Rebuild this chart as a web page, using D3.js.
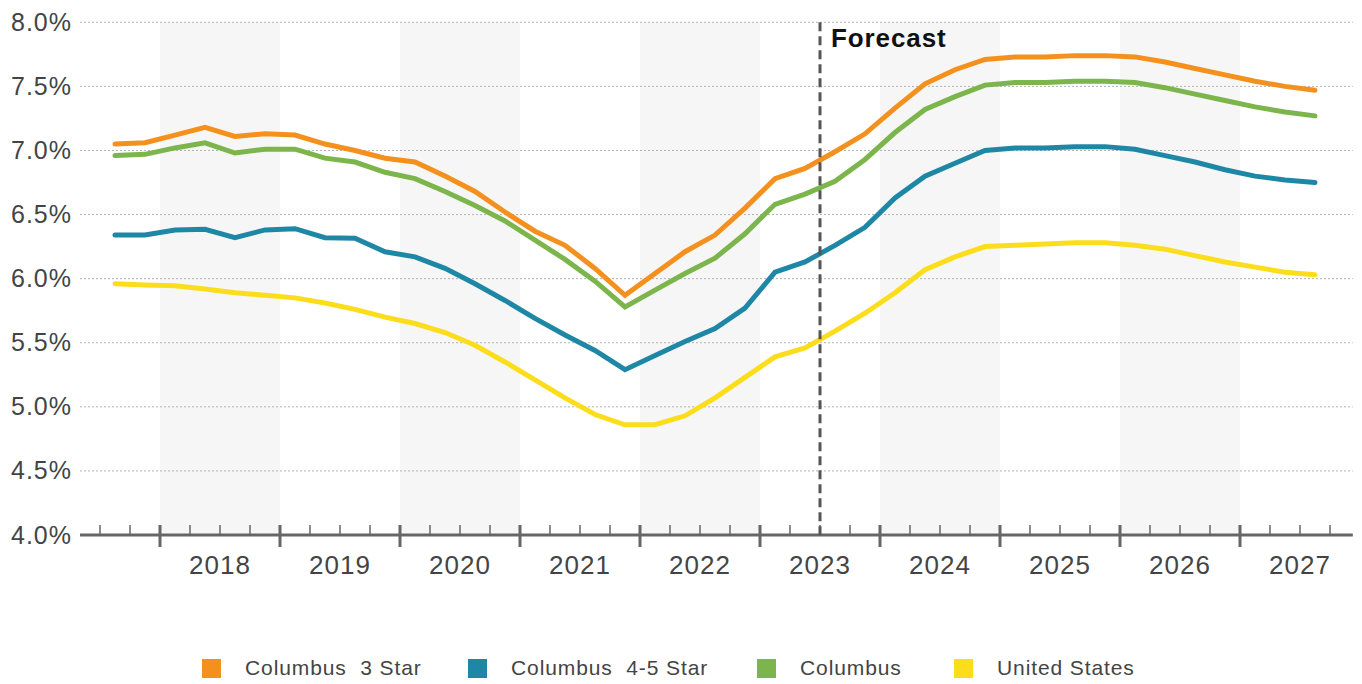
<!DOCTYPE html>
<html>
<head>
<meta charset="utf-8">
<script src="https://cdn.jsdelivr.net/npm/d3@7"></script>
<style>
  html, body { margin: 0; padding: 0; background: #fff; }
  svg { display: block; font-family: "Liberation Sans", Arial, sans-serif; }
</style>
</head>
<body>
<svg id="chart" width="1362" height="684"></svg>
<script>
// Quarterly periods (2017 Q3 through 2027 Q3)
const quarters = [
  "2017 Q3","2017 Q4",
  "2018 Q1","2018 Q2","2018 Q3","2018 Q4",
  "2019 Q1","2019 Q2","2019 Q3","2019 Q4",
  "2020 Q1","2020 Q2","2020 Q3","2020 Q4",
  "2021 Q1","2021 Q2","2021 Q3","2021 Q4",
  "2022 Q1","2022 Q2","2022 Q3","2022 Q4",
  "2023 Q1","2023 Q2","2023 Q3","2023 Q4",
  "2024 Q1","2024 Q2","2024 Q3","2024 Q4",
  "2025 Q1","2025 Q2","2025 Q3","2025 Q4",
  "2026 Q1","2026 Q2","2026 Q3","2026 Q4",
  "2027 Q1","2027 Q2","2027 Q3"
];

// Cap rates (%)
const columbus3Star = [
  7.05, 7.06,
  7.12, 7.18, 7.11, 7.13,
  7.12, 7.05, 7.00, 6.94,
  6.91, 6.80, 6.68, 6.52,
  6.37, 6.26, 6.08, 5.87,
  6.04, 6.21, 6.34, 6.55,
  6.78, 6.86, 6.99, 7.13,
  7.33, 7.52, 7.63, 7.71,
  7.73, 7.73, 7.74, 7.74,
  7.73, 7.69, 7.64, 7.59,
  7.54, 7.50, 7.47
];
const columbus45Star = [
  6.34, 6.34,
  6.38, 6.385, 6.32, 6.38,
  6.39, 6.32, 6.315, 6.21,
  6.17, 6.08, 5.96, 5.83,
  5.69, 5.56, 5.44, 5.29,
  5.40, 5.51, 5.61, 5.77,
  6.05, 6.13, 6.26, 6.40,
  6.63, 6.80, 6.90, 7.00,
  7.02, 7.02, 7.03, 7.03,
  7.01, 6.96, 6.91, 6.85,
  6.80, 6.77, 6.75
];
const columbus = [
  6.96, 6.97,
  7.02, 7.06, 6.98, 7.01,
  7.01, 6.94, 6.91, 6.83,
  6.78, 6.68, 6.57, 6.45,
  6.30, 6.15, 5.98, 5.78,
  5.91, 6.04, 6.16, 6.35,
  6.58, 6.66, 6.76, 6.93,
  7.14, 7.32, 7.42, 7.51,
  7.53, 7.53, 7.54, 7.54,
  7.53, 7.49, 7.44, 7.39,
  7.34, 7.30, 7.27
];
const unitedStates = [
  5.96, 5.95,
  5.945, 5.92, 5.89, 5.87,
  5.85, 5.81, 5.76, 5.70,
  5.65, 5.58, 5.48, 5.35,
  5.21, 5.07, 4.94, 4.86,
  4.86, 4.93, 5.07, 5.23,
  5.39, 5.46, 5.59, 5.73,
  5.89, 6.07, 6.17, 6.25,
  6.26, 6.27, 6.28, 6.28,
  6.26, 6.23, 6.18, 6.13,
  6.09, 6.05, 6.03
];

const seriesNames = ["Columbus  3 Star", "Columbus  4-5 Star", "Columbus", "United States"];
const seriesColors = ["#f4911e", "#1f87a6", "#7bb54b", "#fcdd1c"];
const seriesValues = [columbus3Star, columbus45Star, columbus, unitedStates];

const yearLabels = ["2018","2019","2020","2021","2022","2023","2024","2025","2026","2027"];
const yTicks = [4.0, 4.5, 5.0, 5.5, 6.0, 6.5, 7.0, 7.5, 8.0];
const forecastStart = "2023 Q3";
const forecastLabel = "Forecast";

// ---- layout ----
const svg = d3.select("#chart");
const x = d3.scaleLinear().domain([2017, 2028]).range([40, 1360]);
const y = d3.scaleLinear().domain([4.0, 8.0]).range([535, 22.3]);

const axisStart = 2017 + 1 / 3;
const axisEnd = 2027.94;

// quarter label -> fractional year at its start
function qStart(q) {
  const [yr, qq] = q.split(" Q");
  return +yr + (+qq - 1) / 4;
}
const qCenter = q => qStart(q) + 0.125;

// alternating year bands
const g = svg.append("g");
g.selectAll("rect.band")
  .data(yearLabels.filter((d, i) => i % 2 === 0))
  .enter().append("rect")
  .attr("class", "band")
  .attr("x", d => x(+d))
  .attr("width", d => x(+d + 1) - x(+d))
  .attr("y", y(8.0))
  .attr("height", y(4.0) - y(8.0))
  .attr("fill", "#f6f6f6");

// dotted horizontal gridlines
g.selectAll("line.grid")
  .data(yTicks.filter(d => d > 4.0))
  .enter().append("line")
  .attr("x1", x(axisStart)).attr("x2", x(axisEnd))
  .attr("y1", d => y(d)).attr("y2", d => y(d))
  .attr("stroke", "#b3b3b3")
  .attr("stroke-width", 1)
  .attr("stroke-dasharray", "2,2");

// y-axis labels
g.selectAll("text.ylab")
  .data(yTicks)
  .enter().append("text")
  .attr("x", 72)
  .attr("y", d => y(d) + 8.5)
  .attr("text-anchor", "end")
  .attr("font-size", 25)
  .attr("letter-spacing", 1)
  .attr("fill", "#444")
  .text(d => d3.format(".1f")(d) + "%");

// series lines
const line = d3.line()
  .x((d, i) => x(qCenter(quarters[i])))
  .y(d => y(d));

g.selectAll("path.series")
  .data(seriesValues)
  .enter().append("path")
  .attr("class", "series")
  .attr("d", d => line(d))
  .attr("fill", "none")
  .attr("stroke", (d, i) => seriesColors[i])
  .attr("stroke-width", 5)
  .attr("stroke-linejoin", "miter")
  .attr("stroke-linecap", "round");

// x axis: baseline, quarter ticks, year ticks
const axisG = svg.append("g");
axisG.append("line")
  .attr("x1", x(axisStart)).attr("x2", x(axisEnd))
  .attr("y1", y(4.0)).attr("y2", y(4.0))
  .attr("stroke", "#666").attr("stroke-width", 3);

const quarterTicks = d3.range(0, 42).map(k => 2017.5 + k * 0.25)
  .filter(t => t <= 2027.76 && Math.abs(t - Math.round(t)) > 1e-6);
axisG.selectAll("line.qtick")
  .data(quarterTicks)
  .enter().append("line")
  .attr("x1", d => x(d)).attr("x2", d => x(d))
  .attr("y1", y(4.0) - 10).attr("y2", y(4.0))
  .attr("stroke", "#666").attr("stroke-width", 1.5);

axisG.selectAll("line.ytick")
  .data(yearLabels)
  .enter().append("line")
  .attr("x1", d => x(+d)).attr("x2", d => x(+d))
  .attr("y1", y(4.0) - 10).attr("y2", y(4.0) + 12)
  .attr("stroke", "#666").attr("stroke-width", 3);

axisG.selectAll("text.xlab")
  .data(yearLabels)
  .enter().append("text")
  .attr("x", d => x(+d + 0.5))
  .attr("y", 574)
  .attr("text-anchor", "middle")
  .attr("font-size", 26)
  .attr("letter-spacing", 1)
  .attr("fill", "#444")
  .text(d => d);

// forecast divider
const fx = x(qStart(forecastStart));
svg.append("line")
  .attr("x1", fx).attr("x2", fx)
  .attr("y1", y(8.0)).attr("y2", y(4.0))
  .attr("stroke", "#555")
  .attr("stroke-width", 3)
  .attr("stroke-dasharray", "9,5");
svg.append("text")
  .attr("x", fx + 11)
  .attr("y", 47)
  .attr("font-size", 26)
  .attr("font-weight", "bold")
  .attr("letter-spacing", 0.9)
  .attr("fill", "#111")
  .text(forecastLabel);

// legend
const legendX = [202, 468, 757, 954];
const legend = svg.append("g");
const items = legend.selectAll("g.item")
  .data(seriesNames)
  .enter().append("g")
  .attr("class", "item")
  .attr("transform", (d, i) => `translate(${legendX[i]},0)`);
items.append("rect")
  .attr("x", 0).attr("y", 659)
  .attr("width", 19).attr("height", 19)
  .attr("fill", (d, i) => seriesColors[i]);
items.append("text")
  .attr("x", 43).attr("y", 675)
  .attr("font-size", 21)
  .attr("letter-spacing", 0.9)
  .attr("fill", "#444")
  .style("white-space", "pre")
  .text(d => d);
</script>
</body>
</html>
